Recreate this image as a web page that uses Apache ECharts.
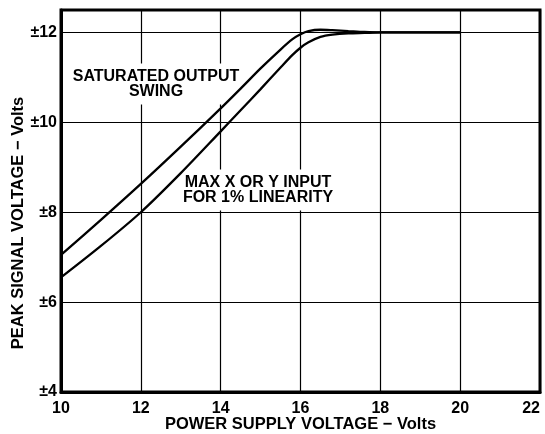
<!DOCTYPE html>
<html>
<head>
<meta charset="utf-8">
<script src="https://cdn.jsdelivr.net/npm/echarts@6/dist/echarts.min.js"></script>
<style>
html,body{margin:0;padding:0;background:#fff;}
#c{width:545px;height:434px;}
</style>
</head>
<body>
<div id="c"></div>
<script>
const supplyVolts = [10, 11, 12, 13, 14, 14.5, 15, 15.5, 15.8, 16, 16.2, 16.5, 16.8, 17.2, 17.6, 18, 20];
const saturatedSwing = [7.05, 7.83, 8.63, 9.46, 10.31, 10.75, 11.2, 11.62, 11.85, 11.96, 12.03, 12.06, 12.05, 12.03, 12.01, 12.0, 12.0];
const maxInput1pct = [6.55, 7.25, 8.0, 8.87, 9.8, 10.27, 10.74, 11.22, 11.5, 11.66, 11.78, 11.9, 11.95, 11.98, 11.99, 12.0, 12.0];
const xTicks = [10, 12, 14, 16, 18, 20, 22];
const yTicks = [4, 6, 8, 10, 12];

const FONT = "'Liberation Sans', Arial, Helvetica, sans-serif";
const chart = echarts.init(document.getElementById('c'), null, {renderer: 'canvas'});
const pairs = v => supplyVolts.map((x, i) => [x, v[i]]);

chart.setOption({
  animation: false,
  backgroundColor: '#fff',
  grid: {left: 61, right: 5, top: 10, bottom: 42, containLabel: false, outerBoundsMode: 'none',
    show: true, borderColor: '#000', borderWidth: 3},
  xAxis: {
    type: 'value', min: 10, max: 22, interval: 2,
    name: 'POWER SUPPLY VOLTAGE \u2212 Volts', nameLocation: 'middle', nameGap: 24, nameMoveOverlap: false,
    nameTextStyle: {fontFamily: FONT, fontWeight: 'bold', fontSize: 16.5, color: '#000'},
    axisLine: {show: true, lineStyle: {color: '#000', width: 3}},
    axisTick: {show: false},
    axisLabel: {fontFamily: FONT, fontWeight: 'bold', fontSize: 16, color: '#000', margin: 9,
      alignMaxLabel: 'right',
      formatter: v => xTicks.includes(v) ? String(v) : ''},
    splitLine: {show: true, lineStyle: {color: '#000', width: 1.2}}
  },
  yAxis: {
    type: 'value', min: 4, max: 12.5, interval: 2,
    name: 'PEAK SIGNAL VOLTAGE \u2212 Volts', nameLocation: 'middle', nameGap: 34, nameMoveOverlap: false,
    nameTextStyle: {fontFamily: FONT, fontWeight: 'bold', fontSize: 16.5, color: '#000', padding: [0, 44, 0, 0]},
    axisLine: {show: true, lineStyle: {color: '#000', width: 3}},
    axisTick: {show: false},
    axisLabel: {fontFamily: FONT, fontWeight: 'bold', fontSize: 16, color: '#000', margin: 4,
      showMaxLabel: false,
      formatter: v => yTicks.includes(v) ? '\u00b1' + v : ''},
    splitLine: {show: true, lineStyle: {color: '#000', width: 1.2}}
  },
  graphic: [
    {type: 'text', z: 50,
      position: [156, 84],
      style: {text: 'SATURATED OUTPUT\nSWING', font: 'bold 16px ' + FONT, fill: '#000',
        align: 'center', verticalAlign: 'middle', lineHeight: 15.5, backgroundColor: '#fff', padding: [5, 2, 5, 2]}},
    {type: 'text', z: 50,
      position: [258, 190],
      style: {text: 'MAX X OR Y INPUT\nFOR 1% LINEARITY', font: 'bold 16px ' + FONT, fill: '#000',
        align: 'center', verticalAlign: 'middle', lineHeight: 15.5, backgroundColor: '#fff', padding: [5, 2, 5, 2]}}
  ],
  series: [
    {type: 'line', name: 'SATURATED OUTPUT SWING', data: pairs(saturatedSwing), smooth: 0.3,
      showSymbol: false, lineStyle: {color: '#000', width: 2.3}, z: 60},
    {type: 'line', name: 'MAX X OR Y INPUT FOR 1% LINEARITY', data: pairs(maxInput1pct), smooth: 0.3,
      showSymbol: false, lineStyle: {color: '#000', width: 2.3}, z: 60}
  ]
});
</script>
</body>
</html>
